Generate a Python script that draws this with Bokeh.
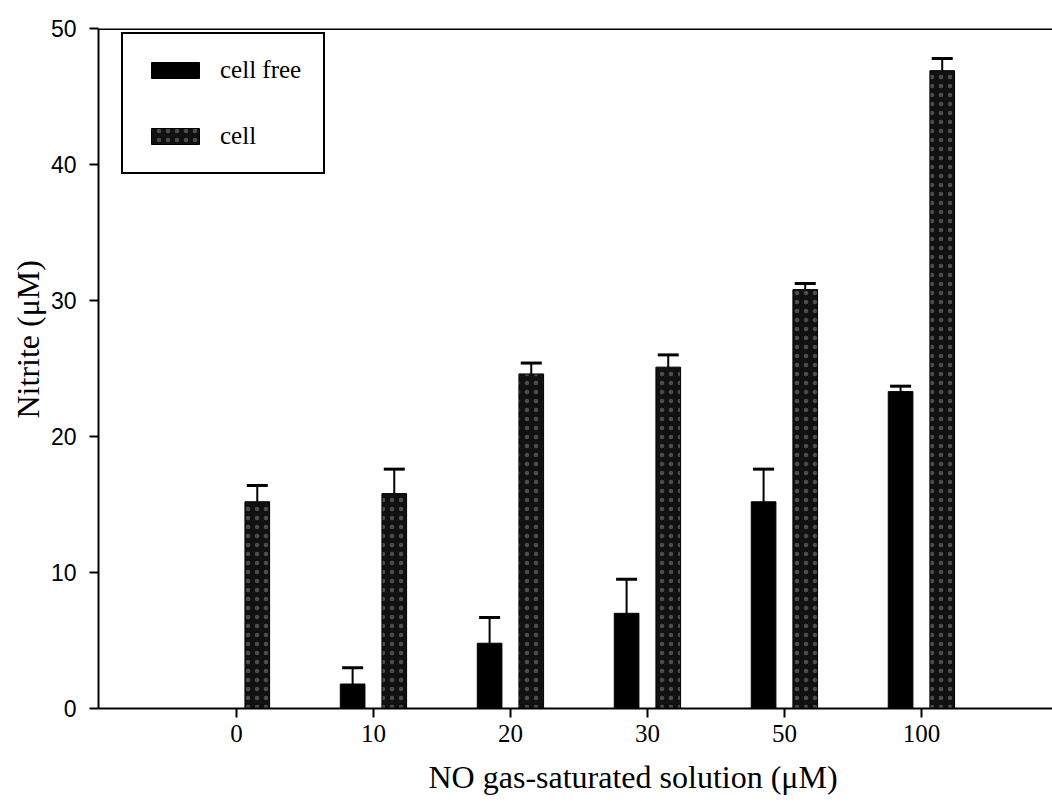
import numpy as np
from bokeh.plotting import figure
from bokeh.models import (ColumnDataSource, Range1d, FixedTicker, Whisker, TeeHead,
                          Span, Title, Legend, LegendItem)
from bokeh.embed import file_html
from bokeh.resources import INLINE

# ---- data ----
categories = ["0", "10", "20", "30", "50", "100"]
cell_free = [0.0, 1.8, 4.8, 7.0, 15.2, 23.3]
cell_free_err = [0.0, 1.2, 1.9, 2.5, 2.4, 0.4]
cell = [15.2, 15.8, 24.6, 25.1, 30.8, 46.9]
cell_err = [1.2, 1.8, 0.8, 0.9, 0.45, 0.9]
y_ticks = [0, 10, 20, 30, 40, 50]
series_names = ["cell free", "cell"]
x_title = "NO gas-saturated solution (\u03bcM)"
y_title = "Nitrite (\u03bcM)"

idx = np.arange(len(categories))
OFF = 0.152
BAR_W = 0.18


def make_src(vals, errs, offset):
    keep = [i for i, v in enumerate(vals) if v > 0]
    return ColumnDataSource(dict(
        x=[float(idx[i] + offset) for i in keep],
        top=[vals[i] for i in keep],
        upper=[vals[i] + errs[i] for i in keep],
    ))


src_cf = make_src(cell_free, cell_free_err, -OFF)
src_c = make_src(cell, cell_err, OFF)

p = figure(width=1052, height=809,
           x_range=Range1d(-1.007, 5.957), y_range=Range1d(0, 50),
           output_backend="svg", toolbar_location=None,
           min_border_left=98, min_border_right=0,
           min_border_top=28, min_border_bottom=101)
p.grid.visible = False
p.outline_line_color = None
p.background_fill_color = "white"
p.border_fill_color = "white"

r1 = p.vbar(x="x", top="top", width=BAR_W, source=src_cf,
            fill_color="black", line_color="black", line_width=1)
r2 = p.vbar(x="x", top="top", width=BAR_W, source=src_c,
            fill_color="#111111", line_color="black", line_width=1,
            hatch_pattern="dot", hatch_color="white", hatch_alpha=0.25,
            hatch_scale=9, hatch_weight=1)

for src in (src_cf, src_c):
    w = Whisker(source=src, base="x", lower="top", upper="upper",
                dimension="height", line_color="black", line_width=2,
                upper_head=TeeHead(size=21, line_width=3, line_color="black"),
                lower_head=None)
    p.add_layout(w)

# top frame line
p.add_layout(Span(location=50, dimension="width", line_color="black", line_width=3))

# axes
xa = p.xaxis[0]
xa.ticker = FixedTicker(ticks=[float(i) for i in idx])
xa.major_label_overrides = {float(i): c for i, c in zip(idx, categories)}
xa.major_label_text_font = "Liberation Serif"
xa.major_label_text_font_size = "25px"
xa.major_label_text_color = "black"
xa.major_label_standoff = 7
xa.major_tick_out = 9
xa.major_tick_in = 0
xa.major_tick_line_width = 2
xa.minor_tick_line_color = None
xa.axis_line_width = 2
xa.axis_line_color = "black"

ya = p.yaxis[0]
ya.ticker = FixedTicker(ticks=y_ticks)
ya.major_label_text_font = "Liberation Sans"
ya.major_label_text_font_size = "23px"
ya.major_label_text_color = "black"
ya.major_label_standoff = 13
ya.major_tick_out = 9
ya.major_tick_in = 0
ya.major_tick_line_width = 2
ya.minor_tick_line_color = None
ya.axis_line_width = 2
ya.axis_line_color = "black"

# axis titles (placed as titles so that their offsets can follow the reference)
p.add_layout(Title(text=x_title, align="left", offset=330, standoff=24,
                   text_font="Liberation Serif", text_font_size="32px",
                   text_font_style="normal", text_color="black"), "below")
p.add_layout(Title(text=y_title, align="left", offset=290, standoff=4,
                   text_font="Liberation Serif", text_font_size="32px",
                   text_font_style="normal", text_color="black"), "left")

legend = Legend(items=[LegendItem(label=series_names[0], renderers=[r1]),
                       LegendItem(label=series_names[1], renderers=[r2])],
                location=(23, 534), margin=0,
                label_text_font="Liberation Serif", label_text_font_size="25px",
                label_text_color="black",
                glyph_width=60, glyph_height=20, label_height=28,
                padding=22, spacing=38, label_standoff=15,
                border_line_color="black", border_line_width=2, border_line_alpha=1,
                background_fill_color="white", background_fill_alpha=1)
p.add_layout(legend)

open("out.html", "w").write(file_html(p, INLINE))
